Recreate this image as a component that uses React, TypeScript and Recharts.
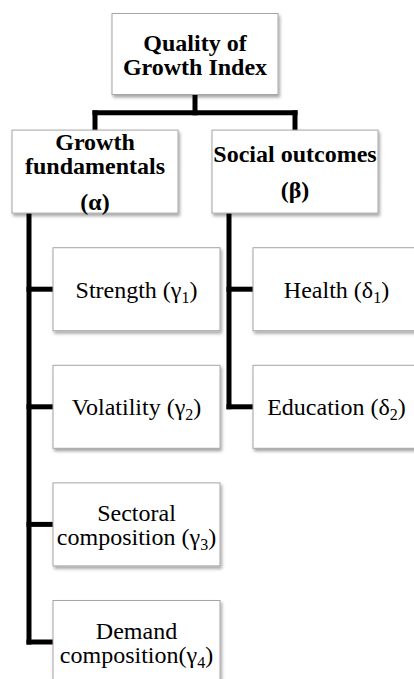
import React from 'react';
import { ScatterChart, Scatter, XAxis, YAxis, ReferenceLine } from 'recharts';

// Tree nodes. "|" splits lines, "_" marks the next character as a subscript.
const nodeLabels = [
  'Quality of|Growth Index',
  'Growth|fundamentals',
  'Social outcomes',
  'Strength (γ_1)',
  'Volatility (γ_2)',
  'Sectoral|composition (γ_3)',
  'Demand|composition(γ_4)',
  'Health (δ_1)',
  'Education (δ_2)',
];
const nodeSymbols = ['', '(α)', '(β)', '', '', '', '', '', ''];
const nodeParents = [-1, 0, 0, 1, 1, 1, 1, 2, 2];
const nodeLevels = [0, 1, 1, 2, 2, 2, 2, 2, 2];
const nodeBranches = [0.5, 0, 1, 0, 0, 0, 0, 1, 1];
const nodeRows = [0, 1, 1, 2, 3, 4, 5, 2, 3];

const W = 414;
const H = 679;
// pixel size of one branch column / one row
const X_UNIT = 200;
const Y_UNIT = 117.6;
const X_DOMAIN: [number, number] = [-95 / X_UNIT, (W - 95) / X_UNIT];
const Y_DOMAIN: [number, number] = [-54 / Y_UNIT, (H - 54) / Y_UNIT];

const BOX = [
  { w: 166, h: 81 },
  { w: 166, h: 83 },
  { w: 167, h: 83 },
];
const LEAF_INDENT = 41.5 / X_UNIT;
const TRUNK_OFFSET = -66 / X_UNIT;
const FONT = 'Liberation Serif';

const nodes = nodeLabels.map((label, i) => ({
  id: i,
  lines: label.split('|'),
  symbol: nodeSymbols[i],
  level: nodeLevels[i],
  x: nodeBranches[i] + (nodeLevels[i] === 2 ? LEAF_INDENT : 0),
  y: nodeRows[i],
}));

type Seg = [{ x: number; y: number }, { x: number; y: number }];

// connectors derived from the parent links
const buildConnectors = (): Seg[] => {
  const segs: Seg[] = [];
  nodes.forEach((parent) => {
    const kids = nodes.filter((n) => nodeParents[n.id] === parent.id);
    if (!kids.length) return;
    const bottom = parent.y + BOX[parent.level].h / 2 / Y_UNIT;
    if (parent.level === 0) {
      const bus = parent.y + 0.5;
      const xs = kids.map((k) => k.x);
      segs.push([{ x: parent.x, y: bottom }, { x: parent.x, y: bus }]);
      segs.push([{ x: Math.min(...xs), y: bus }, { x: Math.max(...xs), y: bus }]);
      kids.forEach((k) => {
        const top = k.y - BOX[k.level].h / 2 / Y_UNIT;
        segs.push([{ x: k.x, y: bus }, { x: k.x, y: top }]);
      });
    } else {
      const trunk = parent.x + TRUNK_OFFSET;
      const last = Math.max(...kids.map((k) => k.y));
      segs.push([{ x: trunk, y: bottom }, { x: trunk, y: last }]);
      kids.forEach((k) => {
        const left = k.x - BOX[k.level].w / 2 / X_UNIT;
        segs.push([{ x: trunk, y: k.y }, { x: left, y: k.y }]);
      });
    }
  });
  return segs;
};
const connectors = buildConnectors();

const TextLine = ({ text, x, y, size, bold }: any) => {
  const parts = text.split('_');
  if (parts.length === 1) {
    return (
      <text x={x} y={y} textAnchor="middle" fontFamily={FONT} fontSize={size} fontWeight={bold ? 700 : 400} fill="#000">
        {text}
      </text>
    );
  }
  return (
    <text x={x} y={y} textAnchor="middle" fontFamily={FONT} fontSize={size} fontWeight={bold ? 700 : 400} fill="#000">
      <tspan>{parts[0]}</tspan>
      <tspan dy={5} fontSize={Math.round(size * 0.65)}>
        {parts[1][0]}
      </tspan>
      <tspan dy={-5}>{parts[1].slice(1)}</tspan>
    </text>
  );
};

const NodeBox = (props: any) => {
  const { cx, cy, payload } = props;
  const { w, h } = BOX[payload.level];
  const bold = payload.level < 2;
  const size = 24;
  // baselines relative to the box centre
  const bases: number[] = payload.lines.map((_: string, i: number) => i * 24);
  const texts: string[] = [...payload.lines];
  if (payload.symbol) {
    bases.push(bases[bases.length - 1] + 36);
    texts.push(payload.symbol);
  }
  const span = bases[bases.length - 1];
  return (
    <g>
      <defs>
        <filter id={`sh${payload.id}`} x="-10%" y="-10%" width="125%" height="130%">
          <feDropShadow dx="1.5" dy="2.5" stdDeviation="1.5" floodColor="#000" floodOpacity="0.35" />
        </filter>
      </defs>
      <rect
        x={cx - w / 2}
        y={cy - h / 2}
        width={w}
        height={h}
        fill="#fff"
        stroke="#a6a6a6"
        strokeWidth={1}
        filter={`url(#sh${payload.id})`}
      />
      {texts.map((t, i) => (
        <TextLine key={i} text={t} x={cx} y={cy - span / 2 + bases[i] + 8.5} size={size} bold={bold} />
      ))}
    </g>
  );
};

export default function App() {
  return (
    <div style={{ position: 'absolute', left: 0, top: 0, background: '#fff' }}>
      <ScatterChart width={W} height={H} margin={{ top: 0, right: 0, bottom: 0, left: 0 }}>
        <XAxis type="number" dataKey="x" domain={X_DOMAIN} allowDataOverflow hide />
        <YAxis type="number" dataKey="y" domain={Y_DOMAIN} allowDataOverflow reversed hide />
        {connectors.map((seg, i) => (
          <ReferenceLine
            key={i}
            segment={seg}
            stroke="#000"
            strokeWidth={5}
            strokeLinecap="square"
            ifOverflow="visible"
          />
        ))}
        <Scatter data={nodes} shape={NodeBox} isAnimationActive={false} />
      </ScatterChart>
    </div>
  );
}
